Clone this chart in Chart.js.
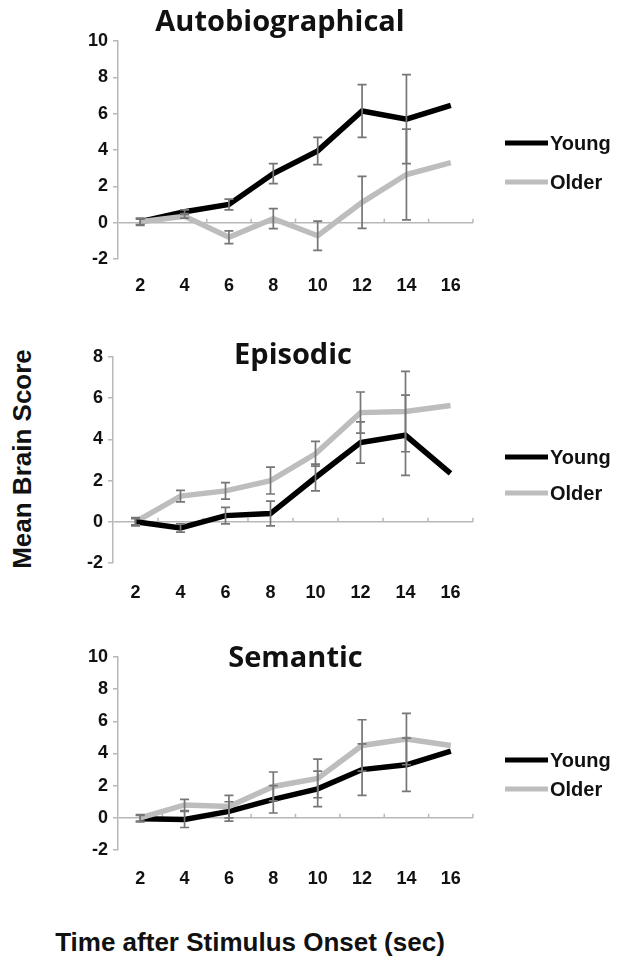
<!DOCTYPE html>
<html>
<head>
<meta charset="utf-8">
<script src="https://cdn.jsdelivr.net/npm/chart.js@4.4.0/dist/chart.umd.min.js"></script>
<style>
  body { margin: 0; background: #fff; width: 624px; height: 973px; position: relative; overflow: hidden; }
  canvas { position: absolute; }
  .axis-title { position: absolute; font-family: "Liberation Sans", Arial, sans-serif; font-weight: bold; color: #111; white-space: nowrap; }
  #yTitle { left: 22px; top: 459px; font-size: 26px; transform: translate(-50%, -50%) rotate(-90deg); }
  #xTitle { left: 250px; top: 942px; font-size: 26px; transform: translate(-50%, -50%); }
</style>
</head>
<body>
<canvas id="autoChart"></canvas>
<canvas id="epiChart"></canvas>
<canvas id="semChart"></canvas>
<div class="axis-title" id="yTitle">Mean Brain Score</div>
<div class="axis-title" id="xTitle">Time after Stimulus Onset (sec)</div>

<script>
const timeLabels = ['2', '4', '6', '8', '10', '12', '14', '16'];
const groupNames = ['Young', 'Older'];

// Autobiographical
const autoYoung    = [0.05, 0.6, 1.0, 2.7, 3.95, 6.15, 5.7, 6.45];
const autoYoungErr = [0.2, 0.1, 0.3, 0.55, 0.75, 1.45, 2.45, 0];
const autoOlder    = [0.05, 0.35, -0.8, 0.22, -0.72, 1.12, 2.65, 3.3];
const autoOlderErr = [0.15, 0.1, 0.35, 0.55, 0.8, 1.43, 2.5, 0];

// Episodic
const epiYoung    = [0, -0.3, 0.3, 0.4, 2.15, 3.85, 4.2, 2.35];
const epiYoungErr = [0.2, 0.2, 0.4, 0.6, 0.65, 1.0, 1.95, 0];
const epiOlder    = [0, 1.25, 1.5, 2.0, 3.3, 5.3, 5.35, 5.65];
const epiOlderErr = [0.15, 0.28, 0.4, 0.65, 0.6, 1.0, 1.95, 0];

// Semantic
const semYoung    = [-0.05, -0.1, 0.4, 1.15, 1.8, 3.0, 3.3, 4.15];
const semYoungErr = [0.2, 0.5, 0.6, 0.85, 1.1, 1.6, 1.65, 0];
const semOlder    = [0, 0.8, 0.7, 1.95, 2.45, 4.5, 4.9, 4.5];
const semOlderErr = [0.2, 0.35, 0.7, 0.9, 1.2, 1.6, 1.6, 0];

const BLACK = '#000000';
const GREY = '#bdbdbd';
const AXIS_GREY = '#b8b8b8';
const ERR_GREY = '#767676';

Chart.defaults.font.family = '"Liberation Sans", Arial, sans-serif';
Chart.defaults.color = '#111';

// error bars + little x tick marks on the zero line
const errorBars = {
    id: 'errorBars',
    beforeDatasetsDraw(chart) {
        const ctx = chart.ctx, x = chart.scales.x, y = chart.scales.y;
        const y0 = y.getPixelForValue(0);
        const half = (x.getPixelForValue(1) - x.getPixelForValue(0)) / 2;
        ctx.save();
        ctx.strokeStyle = AXIS_GREY;
        ctx.lineWidth = 1.5;
        for (let j = 0; j < timeLabels.length; j++) {
            const px = x.getPixelForValue(j) + half;
            ctx.beginPath();
            ctx.moveTo(px, y0);
            ctx.lineTo(px, y0 - 4);
            ctx.stroke();
        }
        ctx.restore();
    },
    afterDatasetsDraw(chart) {
        const ctx = chart.ctx, y = chart.scales.y;
        ctx.save();
        ctx.strokeStyle = ERR_GREY;
        ctx.lineWidth = 1.7;
        chart.data.datasets.forEach((ds, i) => {
            const meta = chart.getDatasetMeta(i);
            ds.errors.forEach((e, j) => {
                if (!e) return;
                const px = meta.data[j].x;
                const top = y.getPixelForValue(ds.data[j] + e);
                const bot = y.getPixelForValue(ds.data[j] - e);
                ctx.beginPath();
                ctx.moveTo(px, top); ctx.lineTo(px, bot);
                ctx.moveTo(px - 4.5, top); ctx.lineTo(px + 4.5, top);
                ctx.moveTo(px - 4.5, bot); ctx.lineTo(px + 4.5, bot);
                ctx.stroke();
            });
        });
        ctx.restore();
    }
};

// legend drawn at the right of each panel
const sideLegend = {
    id: 'sideLegend',
    afterDraw(chart, args, opts) {
        const ctx = chart.ctx;
        ctx.save();
        ctx.font = 'bold 20px "Liberation Sans", Arial, sans-serif';
        ctx.textBaseline = 'middle';
        chart.data.datasets.forEach((ds, i) => {
            const yy = opts.rows[i];
            ctx.fillStyle = ds.borderColor;
            ctx.fillRect(opts.x, yy - 2.5, 43, 5);
            ctx.fillStyle = '#111';
            ctx.fillText(ds.label, opts.x + 45, yy + 1);
        });
        ctx.restore();
    }
};

function makePanel(id, p) {
    const canvas = document.getElementById(id);
    canvas.width = 624 - p.left;
    canvas.height = p.height;
    canvas.style.left = p.left + 'px';
    canvas.style.top = p.top + 'px';

    const titleTop = p.titleY - p.top - 17.4;
    const titleBottom = p.areaTop - p.top - 34.8 - titleTop;
    const xAxisH = p.labelPad + 21.6;
    const padBottom = p.height - (p.areaBottom - p.top) - xAxisH;

    return new Chart(canvas, {
        type: 'line',
        data: {
            labels: timeLabels,
            datasets: [
                { label: groupNames[0], data: p.young, errors: p.youngErr, borderColor: BLACK, backgroundColor: BLACK, order: 1 },
                { label: groupNames[1], data: p.older, errors: p.olderErr, borderColor: GREY, backgroundColor: GREY, order: p.olderOrder }
            ]
        },
        options: {
            responsive: false,
            animation: false,
            events: [],
            layout: { padding: { left: 0, top: 0, right: 624 - 473, bottom: padBottom } },
            elements: {
                line: { borderWidth: 5.5, tension: 0, borderCapStyle: 'butt' },
                point: { radius: 0 }
            },
            scales: {
                x: {
                    offset: true,
                    afterFit: s => { s.height = xAxisH; },
                    grid: { display: false, drawTicks: false },
                    border: { display: false },
                    ticks: { font: { size: 18, weight: 'bold' }, padding: p.labelPad }
                },
                y: {
                    min: p.min, max: p.max,
                    afterFit: s => { s.width = p.axisX - p.left; },
                    ticks: { stepSize: 2, font: { size: 18, weight: 'bold' }, padding: 5 },
                    grid: {
                        color: c => (c.tick && c.tick.value === 0) ? AXIS_GREY : 'rgba(0,0,0,0)',
                        lineWidth: 1.5,
                        tickColor: AXIS_GREY,
                        tickLength: 5
                    },
                    border: { color: AXIS_GREY, width: 1.5 }
                }
            },
            plugins: {
                legend: { display: false },
                tooltip: { enabled: false },
                title: {
                    display: true,
                    text: p.title,
                    fullSize: p.fullSize,
                    color: '#111',
                    font: { family: '"Open Sans", sans-serif', size: 29, weight: 'bold' },
                    padding: { top: titleTop, bottom: titleBottom }
                },
                sideLegend: { x: 505 - p.left, rows: p.legendRows.map(v => v - p.top) }
            }
        },
        plugins: [errorBars, sideLegend]
    });
}

makePanel('autoChart', {
    title: 'Autobiographical', top: 0, left: 87, height: 300, axisX: 118,
    areaTop: 41, areaBottom: 259, titleY: 23, labelPad: 16, fullSize: true,
    min: -2, max: 10, young: autoYoung, youngErr: autoYoungErr,
    older: autoOlder, olderErr: autoOlderErr, olderOrder: 0, legendRows: [143, 182]
});

makePanel('epiChart', {
    title: 'Episodic', top: 310, left: 78, height: 296, axisX: 113,
    areaTop: 357, areaBottom: 563, titleY: 356, labelPad: 19, fullSize: false,
    min: -2, max: 8, young: epiYoung, youngErr: epiYoungErr,
    older: epiOlder, olderErr: epiOlderErr, olderOrder: 2, legendRows: [457, 493]
});

makePanel('semChart', {
    title: 'Semantic', top: 615, left: 82, height: 278, axisX: 118,
    areaTop: 657, areaBottom: 850, titleY: 659, labelPad: 18, fullSize: false,
    min: -2, max: 10, young: semYoung, youngErr: semYoungErr,
    older: semOlder, olderErr: semOlderErr, olderOrder: 0, legendRows: [760, 789]
});
</script>
</body>
</html>
